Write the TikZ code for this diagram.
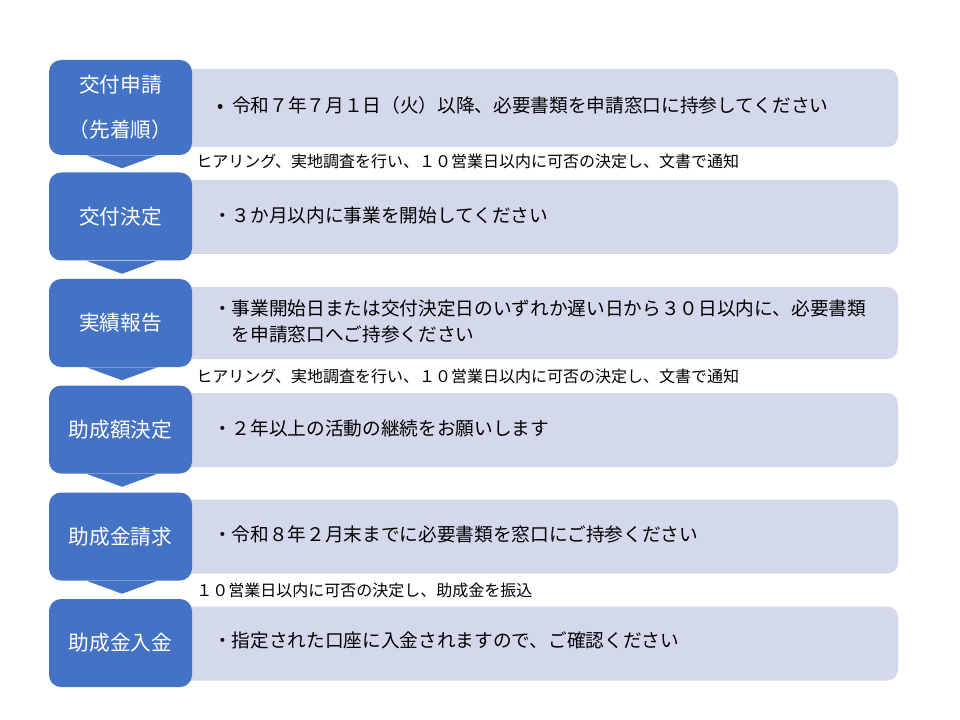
\documentclass[tikz,border=0pt]{standalone}
\usepackage{fontspec}
\setmainfont{Noto Sans CJK JP}
\definecolor{stepblue}{RGB}{68,114,196}
\definecolor{notegray}{RGB}{211,216,236}

\begin{document}
\begin{tikzpicture}[x=0.75pt,y=-0.75pt]
%define

\tikzstyle{step_box} = [rectangle, rounded corners=9pt, minimum width=107.25pt, minimum height=66pt, text centered, fill=stepblue, text=white, font=\fontsize{15.5}{18}\selectfont, align=center]
\tikzstyle{note_box} = [rectangle, rounded corners=8pt, minimum width=538.5pt, minimum height=55.5pt, fill=notegray]
\tikzstyle{note_text} = [anchor=west, inner sep=0pt, font=\fontsize{14}{20}\selectfont, align=left]
\tikzstyle{memo} = [anchor=west, inner sep=0pt, font=\fontsize{12}{14}\selectfont]
\tikzstyle{chevron} = [fill=stepblue]

\useasboundingbox (0,0) rectangle (960,720);

%block1
\node[note_box, minimum height=58.5pt](note_Apply) at (539,108){};
\node[step_box, minimum height=71.25pt](step_Apply) at (120.5,107.5){交付申請\\[16pt]（先着順）};
\node[note_text](text_Apply) at (217,105){•\hspace{6.5pt}令和７年７月１日（火）以降、必要書類を申請窓口に持参してください};
\node[memo](memo_Apply) at (196,161){ヒアリング、実地調査を行い、１０営業日以内に可否の決定し、文書で通知};
%block2
\node[note_box](note_Decide) at (539,217){};
\node[step_box](step_Decide) at (120.5,216.5){交付決定};
\node[note_text](text_Decide) at (213,215){・３か月以内に事業を開始してください};
%block3
\node[note_box, minimum height=54pt](note_Report) at (539,323){};
\node[step_box](step_Report) at (120.5,323){実績報告};
\node[note_text](text_Report) at (213,321.5){・事業開始日または交付決定日のいずれか遅い日から３０日以内に、必要書類\\\phantom{・}を申請窓口へご持参ください};
\node[memo](memo_Report) at (196,376){ヒアリング、実地調査を行い、１０営業日以内に可否の決定し、文書で通知};
%block4
\node[note_box](note_Amount) at (539,430){};
\node[step_box](step_Amount) at (120.5,429.5){助成額決定};
\node[note_text](text_Amount) at (213,428){・２年以上の活動の継続をお願いします};
%block5
\node[note_box](note_Claim) at (539,536.5){};
\node[step_box](step_Claim) at (120.5,536.5){助成金請求};
\node[note_text](text_Claim) at (213,534){・令和８年２月末までに必要書類を窓口にご持参ください};
\node[memo](memo_Claim) at (196,590){１０営業日以内に可否の決定し、助成金を振込};
%block6
\node[note_box](note_Pay) at (539,643.5){};
\node[step_box](step_Pay) at (120.5,643){助成金入金};
\node[note_text](text_Pay) at (213,640){・指定された口座に入金されますので、ご確認ください};
%line

\fill[chevron](step_Apply.south) ++(-34,0) -- ++(71,0) -- ++(-35.5,13) -- cycle; %Apply->Decide
\fill[chevron](step_Decide.south) ++(-34,0) -- ++(71,0) -- ++(-35.5,13) -- cycle; %Decide->Report
\fill[chevron](step_Report.south) ++(-34,0) -- ++(71,0) -- ++(-35.5,13) -- cycle; %Report->Amount
\fill[chevron](step_Amount.south) ++(-34,0) -- ++(71,0) -- ++(-35.5,13) -- cycle; %Amount->Claim
\fill[chevron](step_Claim.south) ++(-34,0) -- ++(71,0) -- ++(-35.5,13) -- cycle; %Claim->Pay

\end{tikzpicture}
\end{document}
